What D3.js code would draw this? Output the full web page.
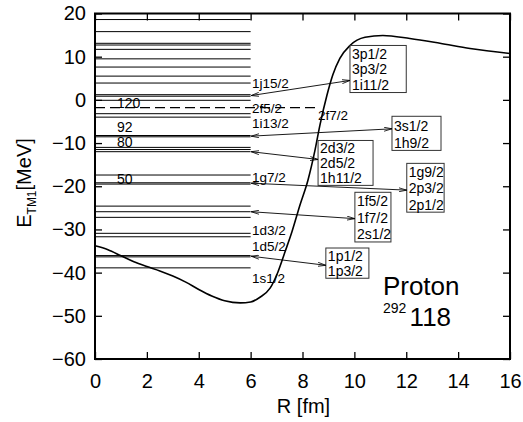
<!DOCTYPE html>
<html>
<head>
<meta charset="utf-8">
<script src="https://cdn.jsdelivr.net/npm/d3@7"></script>
<style>
  body { margin: 0; background: #fff; }
  text { font-family: "Liberation Sans", Arial, Helvetica, sans-serif; fill: #000; }
</style>
</head>
<body>
<svg id="chart" width="523" height="422"></svg>
<script>
// single-particle levels (MeV), drawn from R=0 to R=6 fm
var levelEnergies = [18.6, 15.8, 13.1, 12.7, 11.7, 9.5, 7.6, 5.5, 3.9, 1.2, 0.85, -0.1,
  -3.2, -4.0, -8.25, -8.55, -11.0, -11.5, -12.0, -17.4, -19.2, -19.5,
  -24.6, -25.9, -27.2, -30.9, -31.7, -36.05, -36.35, -38.9];

// mean-field potential
var potentialR = [0, 0.5, 1, 1.5, 2, 2.5, 3, 3.5, 4, 4.5, 5, 5.6, 6, 6.36, 6.75, 7.05, 7.32, 7.59,
  7.9, 8.21, 8.48, 8.67, 8.94, 9.17, 9.44, 9.83, 10.41, 11.1, 12.14, 13.3, 14.46, 16];
var potentialE = [-33.8, -34.7, -36.1, -37.5, -38.6, -39.6, -40.8, -42.2, -43.9, -45.4, -46.5, -47.0, -46.8,
  -45.7, -43.6, -39.9, -35.3, -30.6, -24.4, -18.6, -11.7, -5.9, 1.0, 5.8, 9.6, 12.6, 14.5, 14.9, 14.2, 13.1, 11.9, 10.75];

var shellGaps = ["120", "92", "80", "50"];
var shellGapE = [-1.8, -7.4, -10.8, -19.3];

var fermiE = -1.8;

var leftLabels = ["1j15/2", "2f5/2", "1i13/2", "1g7/2", "1d3/2", "1d5/2", "1s1/2"];
var leftLabelE = [2.8, -3.0, -6.5, -19.0, -31.3, -35.0, -42.4];

var boxLabels = [
  ["3p1/2", "3p3/2", "1i11/2"],
  ["3s1/2", "1h9/2"],
  ["2d3/2", "2d5/2", "1h11/2"],
  ["1g9/2", "2p3/2", "2p1/2"],
  ["1f5/2", "1f7/2", "2s1/2"],
  ["1p1/2", "1p3/2"]
];
var boxLevelE = [1.0, -8.4, -12.0, -19.3, -25.9, -36.2];

var xTicks = [0, 2, 4, 6, 8, 10, 12, 14, 16];
var yTicks = [20, 10, 0, -10, -20, -30, -40, -50, -60];

var svg = d3.select("#chart");
var m = { left: 95, right: 13, top: 13.5, bottom: 63 };
var W = 523, H = 422;

var x = d3.scaleLinear().domain([0, 16]).range([m.left, W - m.right]);
var y = d3.scaleLinear().domain([-60, 20]).range([H - m.bottom, m.top]);

// axes with inward ticks
svg.append("g").attr("transform", "translate(0," + y(-60) + ")")
  .call(d3.axisBottom(x).tickValues(xTicks).tickSize(-7).tickPadding(15).tickFormat(d3.format("d")))
  .call(function (g) { g.select(".domain").remove(); g.selectAll("text").attr("font-size", 20); });
svg.append("g").attr("transform", "translate(0," + y(20) + ")")
  .call(d3.axisTop(x).tickValues(xTicks).tickSize(-7).tickFormat(""))
  .call(function (g) { g.select(".domain").remove(); });
svg.append("g").attr("transform", "translate(" + x(0) + ",0)")
  .call(d3.axisLeft(y).tickValues(yTicks).tickSize(-7).tickPadding(9).tickFormat(function (d) { return d < 0 ? "\u2212" + (-d) : d; }))
  .call(function (g) { g.select(".domain").remove(); g.selectAll("text").attr("font-size", 20); });
svg.append("g").attr("transform", "translate(" + x(16) + ",0)")
  .call(d3.axisRight(y).tickValues(yTicks).tickSize(-7).tickFormat(""))
  .call(function (g) { g.select(".domain").remove(); });
svg.selectAll(".tick line").attr("stroke", "#000").attr("stroke-width", 1.3);

// levels
svg.append("g").selectAll("line").data(levelEnergies).enter().append("line")
  .attr("x1", x(0)).attr("x2", x(6))
  .attr("y1", function (d) { return y(d); }).attr("y2", function (d) { return y(d); })
  .attr("stroke", "#000").attr("stroke-width", 1);

// dashed line
svg.append("line")
  .attr("x1", x(0)).attr("x2", x(8.6)).attr("y1", y(fermiE)).attr("y2", y(fermiE))
  .attr("stroke", "#000").attr("stroke-width", 1.2).attr("stroke-dasharray", "10,5");

// potential
var line = d3.line().x(function (d) { return x(d[0]); }).y(function (d) { return y(d[1]); }).curve(d3.curveMonotoneX);
svg.append("path").datum(d3.zip(potentialR, potentialE))
  .attr("d", line).attr("fill", "none").attr("stroke", "#000").attr("stroke-width", 1.6);

// shell gap numbers
svg.append("g").selectAll("text").data(shellGaps).enter().append("text")
  .attr("x", x(0.85)).attr("y", function (d, i) { return y(shellGapE[i]) + 0.5; })
  .attr("font-size", 14).text(function (d) { return d; });

// level labels
svg.append("g").selectAll("text").data(leftLabels).enter().append("text")
  .attr("x", x(6.05)).attr("y", function (d, i) { return y(leftLabelE[i]); })
  .attr("font-size", 13.5).text(function (d) { return d; });
svg.append("text").attr("x", x(8.6)).attr("y", y(-4.7)).attr("font-size", 13.5).text("2f7/2");

// arrow markers
var defs = svg.append("defs");
["start", "end"].forEach(function (k) {
  defs.append("marker").attr("id", "ah-" + k)
    .attr("viewBox", "0 0 10 6").attr("refX", k == "end" ? 10 : 0).attr("refY", 3)
    .attr("markerWidth", 8).attr("markerHeight", 5).attr("markerUnits", "userSpaceOnUse")
    .attr("orient", "auto")
    .append("path").attr("d", k == "end" ? "M0,0.5 L10,3 L0,5.5" : "M10,0.5 L0,3 L10,5.5")
    .attr("fill", "none").attr("stroke", "#000").attr("stroke-width", 1);
});

// box placement (R and E of the edges) and arrow end E
var boxLeft = [9.83, 11.45, 8.6, 12.02, 10.02, 8.9];
var boxRight = [12.0, 13.34, 10.72, 13.46, 11.41, 10.56];
var boxTop = [12.6, -3.8, -9.4, -14.7, -21.4, -34.3];
var boxBottom = [1.7, -11.7, -19.8, -26.0, -32.9, -41.3];
var arrowE = [4.5, -6.7, -13.8, -20.9, -27.5, -38.3];

boxLabels.forEach(function (lines, i) {
  var g = svg.append("g");
  var bx = x(boxLeft[i]), by = y(boxTop[i]);
  var w = x(boxRight[i]) - bx, h = y(boxBottom[i]) - by;
  var step = h / lines.length;
  g.append("rect").attr("x", bx).attr("y", by).attr("width", w).attr("height", h)
    .attr("fill", "none").attr("stroke", "#333").attr("stroke-width", 1);
  g.selectAll("text").data(lines).enter().append("text")
    .attr("x", bx + 2).attr("y", function (d, j) { return by + (j + 1) * step - 2.5; })
    .attr("font-size", 14).text(function (d) { return d; });
  svg.append("line")
    .attr("x1", x(6.02)).attr("y1", y(boxLevelE[i]))
    .attr("x2", bx).attr("y2", y(arrowE[i]))
    .attr("stroke", "#000").attr("stroke-width", 0.9)
    .attr("marker-start", "url(#ah-start)").attr("marker-end", "url(#ah-end)");
});

// nucleus label
svg.append("text").attr("x", x(11.1)).attr("y", y(-45.2)).attr("font-size", 26).text("Proton");
svg.append("text").attr("x", x(11.1)).attr("y", y(-49.3)).attr("font-size", 14).text("292");
svg.append("text").attr("x", x(12.13)).attr("y", y(-52.3)).attr("font-size", 26).text("118");

// frame
svg.append("rect").attr("x", x(0)).attr("y", y(20)).attr("width", x(16) - x(0)).attr("height", y(-60) - y(20))
  .attr("fill", "none").attr("stroke", "#000").attr("stroke-width", 2);

// axis titles
svg.append("text").attr("x", (x(0) + x(16)) / 2 + 1).attr("y", 413).attr("text-anchor", "middle")
  .attr("font-size", 20).text("R [fm]");
var yt = svg.append("text").attr("transform", "translate(31,183) rotate(-90)").attr("text-anchor", "middle")
  .attr("font-size", 20);
yt.append("tspan").text("E");
yt.append("tspan").attr("font-size", 12).attr("dy", 5).text("TM1");
yt.append("tspan").attr("dy", -5).text("[MeV]");
</script>
</body>
</html>
